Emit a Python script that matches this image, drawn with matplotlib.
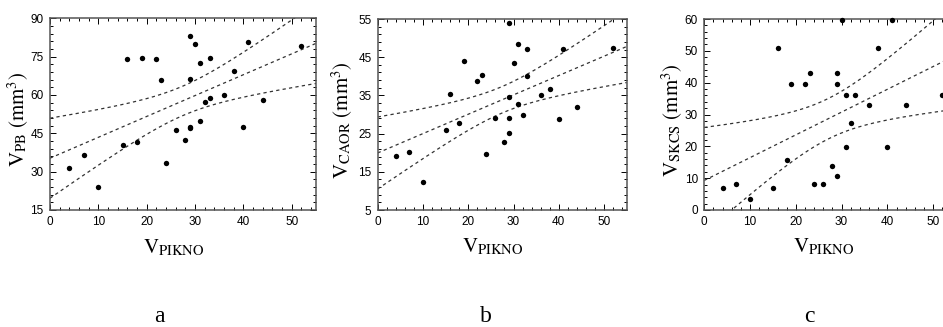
import matplotlib
matplotlib.use('Agg')
import matplotlib.pyplot as plt
import numpy as np
from matplotlib.ticker import FixedLocator

plt.rcParams['mathtext.fontset'] = 'stix'
tick_font = ['Liberation Sans Narrow', 'Liberation Sans', 'DejaVu Sans']

# V_PIKNO values (panels a and b share the same samples)
x_ab = [4, 7, 10, 15, 16, 18, 19, 22, 23, 24, 26, 28, 29, 29, 29, 29,
        30, 31, 31, 32, 33, 33, 36, 38, 40, 41, 44, 52]
v_pb = [31.4, 36.4, 24.0, 40.4, 74.0, 41.5, 74.6, 74.0, 66.0, 33.5, 46.3, 42.4,
        83.2, 66.3, 47.5, 47.0, 80.1, 72.4, 49.7, 57.1, 74.4, 58.7, 60.1, 69.4,
        47.4, 80.6, 58.0, 79.3]
v_caor = [19.2, 20.1, 12.4, 25.9, 35.4, 27.9, 44.1, 38.8, 40.3, 19.7, 29.2, 22.9,
          54.0, 34.7, 29.0, 25.2, 43.6, 48.4, 32.7, 30.0, 47.1, 40.0, 35.2, 36.8,
          28.8, 47.1, 32.0, 47.3]
# panel c: points visible in the picture
x_c = [4, 7, 10, 15, 16, 18, 19, 22, 23, 24, 26, 28, 29, 29, 29,
       30, 31, 31, 32, 33, 36, 38, 40, 41, 44, 52]
v_skcs = [6.8, 8.1, 3.5, 6.8, 50.8, 15.7, 39.5, 39.5, 42.9, 8.1, 8.1, 13.8,
          42.9, 39.5, 10.7, 59.6, 36.0, 19.8, 27.2, 36.0, 33.0, 50.8, 19.8,
          59.6, 33.0, 36.0]

panels = [
    dict(x=x_ab, y=v_pb, name='PB', ylim=(15, 90), major=15, minor=3, letter='a'),
    dict(x=x_ab, y=v_caor, name='CAOR', ylim=(5, 55), major=10, minor=2, letter='b'),
    dict(x=x_c, y=v_skcs, name='SKCS', ylim=(0, 60), major=10, minor=2, letter='c'),
]

W, H = 943, 327
fig = plt.figure(figsize=(W / 100, H / 100), dpi=100)

# axes boxes in pixels: left, right, top, bottom
boxes = [(50, 316, 18.3, 210), (377.7, 626.7, 19, 210), (704.3, 956, 19, 210)]
xlab_x = [0.466, 0.463, 0.476]
ylab_x = [-0.12, -0.14, -0.125]
letter_x = [159, 486, 809]

t975 = {24: 2.064, 26: 2.056}

for p, (l, r, t, b), lx, yx, ltx in zip(panels, boxes, xlab_x, ylab_x, letter_x):
    ax = fig.add_axes([l / W, 1 - b / H, (r - l) / W, (b - t) / H])
    x = np.array(p['x'], float)
    y = np.array(p['y'], float)

    # least squares line + 95% mean confidence bands
    n = len(x)
    slope, icpt = np.polyfit(x, y, 1)
    res = y - (icpt + slope * x)
    s = np.sqrt(np.sum(res ** 2) / (n - 2))
    sxx = np.sum((x - x.mean()) ** 2)
    xf = np.linspace(0, 55, 200)
    yf = icpt + slope * xf
    hw = t975[n - 2] * s * np.sqrt(1 / n + (xf - x.mean()) ** 2 / sxx)
    for yy in (yf, yf + hw, yf - hw):
        ax.plot(xf, yy, color='#333333', lw=0.9, dashes=(2.6, 2.6))

    ax.scatter(x, y, s=15, color='black', zorder=3, clip_on=False, linewidths=0)

    y0, y1 = p['ylim']
    ax.set_xlim(0, 55)
    ax.set_ylim(y0, y1)
    ax.xaxis.set_major_locator(FixedLocator(np.arange(0, 56, 10)))
    ax.xaxis.set_minor_locator(FixedLocator(np.arange(0, 56, 2)))
    ax.yaxis.set_major_locator(FixedLocator(np.arange(y0, y1 + 1, p['major'])))
    ax.yaxis.set_minor_locator(FixedLocator(np.arange(y0, y1 + 1, p['minor'])))
    ax.tick_params(which='both', direction='in', top=True, right=True,
                   color='black', width=0.7)
    ax.tick_params(which='major', length=4, pad=4.5, labelsize=8.5)
    ax.tick_params(which='minor', length=2)
    for lab in ax.get_xticklabels() + ax.get_yticklabels():
        lab.set_family(tick_font)
    for sp in ax.spines.values():
        sp.set_color('#555555')
        sp.set_linewidth(1.1)

    ax.set_xlabel(r'$\mathrm{V}_{\mathrm{PIKNO}}$', fontsize=15)
    ax.xaxis.set_label_coords(lx, -0.14)
    ax.set_ylabel(r'$\mathrm{V}_{\mathrm{%s}}\ (\mathrm{mm}^{3})$' % p['name'], fontsize=15)
    ax.yaxis.label.set_va('center')
    ax.yaxis.set_label_coords(yx, 0.47)

    fig.text(ltx / W, 1 - 316 / H, p['letter'], fontsize=17, family='Liberation Serif',
             ha='center', va='center')

fig.savefig('out.png', dpi=100)
